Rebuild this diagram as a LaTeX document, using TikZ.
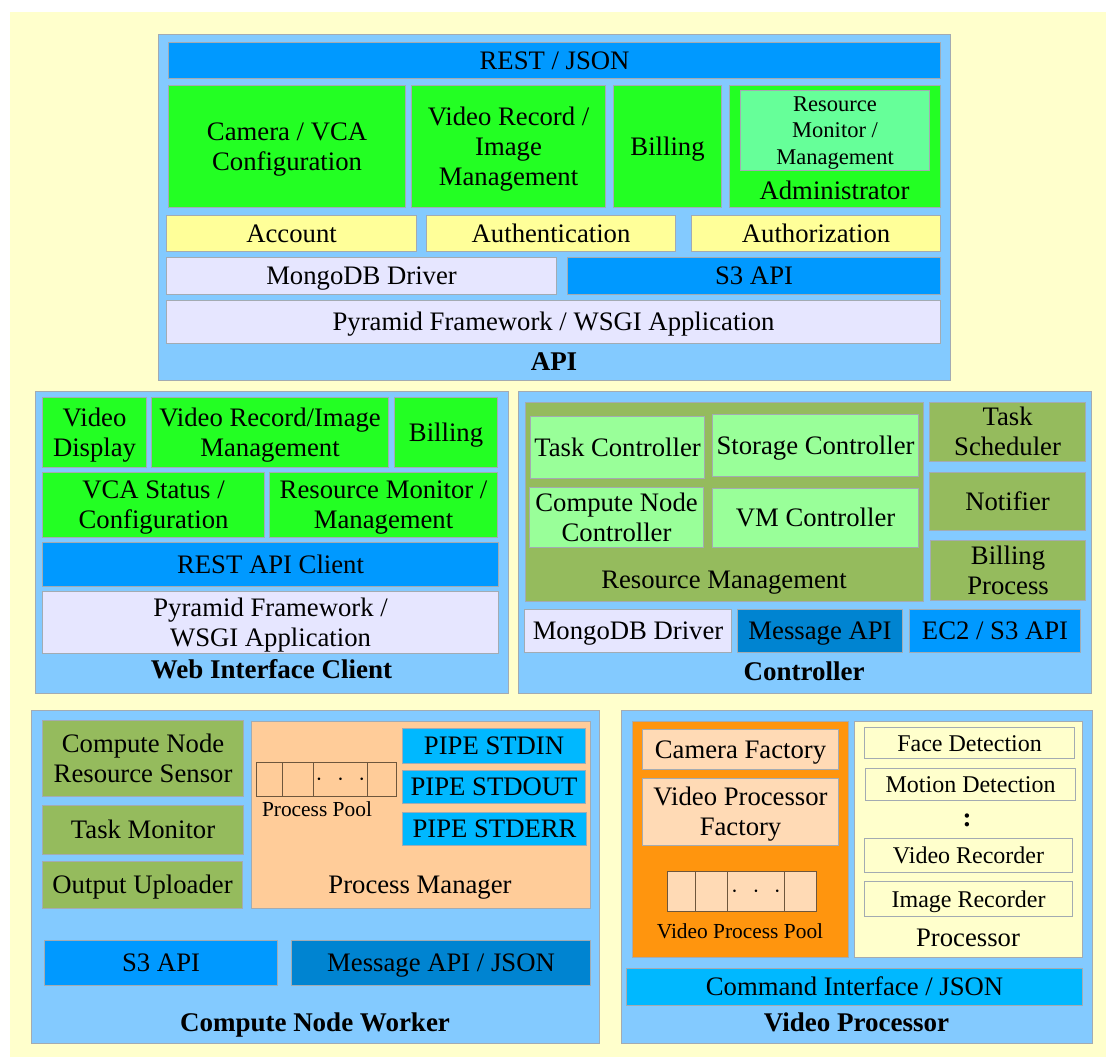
\documentclass[tikz,border=0pt]{standalone}
\usepackage{fontspec}
\setmainfont{Liberation Serif}

\definecolor{pagebg}{HTML}{FFFFCC}
\definecolor{panelblue}{HTML}{83CAFF}
\definecolor{restblue}{HTML}{0099FF}
\definecolor{msgblue}{HTML}{0084D1}
\definecolor{pipecyan}{HTML}{00B8FF}
\definecolor{brightgreen}{HTML}{23FF23}
\definecolor{mint}{HTML}{66FF99}
\definecolor{palegreen}{HTML}{99FF99}
\definecolor{olive}{HTML}{95BB5D}
\definecolor{lightyellow}{HTML}{FFFF99}
\definecolor{lavender}{HTML}{E6E6FF}
\definecolor{peach}{HTML}{FFCC99}
\definecolor{lightpeach}{HTML}{FFDAB5}
\definecolor{orangebox}{HTML}{FF950E}
\definecolor{cream}{HTML}{FFFFCC}
\definecolor{edge}{HTML}{A3ABB2}
\definecolor{pooledge}{HTML}{6E563C}

% one text line whose box runs from the baseline to the cap height,
% so that lines are centred on their capitals
\newcommand{\capline}[1]{\raisebox{0pt}[0.662em][0pt]{#1}}

% block given by its top-left and bottom-right corners (pixel units, y down)
\newcommand{\bx}[7]{\node[#2, minimum width={(#5)-(#3)}, minimum height={(#6)-(#4)}, anchor=north west] (#1) at (#3,#4) {#7};}

\tikzset{
  box/.style={draw=edge, line width=1.1pt, inner sep=0pt, align=center,
    font=\fontsize{26.7}{30}\selectfont},
  panel/.style={box, fill=panelblue},
  title/.style={inner sep=0pt, font=\fontsize{27}{30}\selectfont\bfseries},
  lbl/.style={inner sep=0pt, align=center, font=\fontsize{26.7}{30}\selectfont},
  smalllbl/.style={inner sep=0pt, font=\fontsize{21.4}{24}\selectfont},
  midbox/.style={box, font=\fontsize{24}{27}\selectfont},
  cell/.style={draw=pooledge, line width=1.1pt, inner sep=0pt,
    font=\fontsize{26}{30}\selectfont},
}
\newcommand{\pooldots}{$\cdot$\hspace{14.5pt}$\cdot$\hspace{14.5pt}$\cdot$}

\begin{document}
\begin{tikzpicture}[x=1pt,y=-1pt]
\useasboundingbox (0,0) rectangle (1106,1057);
\fill[white] (0,0) rectangle (1106,1057);
\fill[pagebg] (10,12) rectangle (1106,1057);

% ---------------- API ----------------
\bx{api}{panel}{158}{34}{950}{380}{}
\bx{rest}{box,fill=restblue}{168}{42}{940}{78}{\capline{REST / JSON}}
\bx{camcfg}{box,fill=brightgreen}{168}{85}{405}{207}{\capline{Camera / VCA}\\\capline{Configuration}}
\bx{vrim}{box,fill=brightgreen}{411}{85}{605}{207}{\capline{Video Record /}\\\capline{Image}\\\capline{Management}}
\bx{bill}{box,fill=brightgreen}{613}{85}{721}{207}{\capline{Billing}}
\bx{admin}{box,fill=brightgreen}{729}{85}{940}{207}{}
\bx{resmon}{box,fill=mint,font=\fontsize{22.5}{26.5}\selectfont}{740}{90}{929}{170}{\capline{Resource}\\\capline{Monitor /}\\\capline{Management}}
\node[lbl] (adminlbl) at (834.5,191) {\capline{Administrator}};
\bx{account}{box,fill=lightyellow}{166}{215}{416}{251}{\capline{Account}}
\bx{authn}{box,fill=lightyellow}{426}{215}{675}{251}{\capline{Authentication}}
\bx{authz}{box,fill=lightyellow}{691}{215}{940}{251}{\capline{Authorization}}
\bx{mongo}{box,fill=lavender}{166}{257}{556}{294}{\capline{MongoDB Driver}}
\bx{sthree}{box,fill=restblue}{567}{257}{940}{294}{\capline{S3 API}}
\bx{pyr}{box,fill=lavender}{166}{300}{940}{343}{\capline{Pyramid Framework / WSGI Application}}
\node[title] (apilbl) at (554,362) {\capline{API}};

% ---------------- Web Interface Client ----------------
\bx{web}{panel}{35}{391}{508}{693}{}
\bx{vdisp}{box,fill=brightgreen}{42}{397}{146}{467}{\capline{Video}\\\capline{Display}}
\bx{wvrim}{box,fill=brightgreen}{151}{397}{388}{467}{\capline{Video Record/Image}\\\capline{Management}}
\bx{wbill}{box,fill=brightgreen}{394}{397}{497}{467}{\capline{Billing}}
\bx{vca}{box,fill=brightgreen}{42}{472}{264}{537}{\capline{VCA Status /}\\\capline{Configuration}}
\bx{wrmm}{box,fill=brightgreen}{269}{472}{497}{537}{\capline{Resource Monitor /}\\\capline{Management}}
\bx{restc}{box,fill=restblue}{42}{542}{498}{586}{\capline{REST API Client}}
\bx{wpyr}{box,fill=lavender}{42}{591}{498}{653}{\capline{Pyramid Framework /}\\\capline{WSGI Application}}
\node[title] (weblbl) at (271.5,670) {\capline{Web Interface Client}};

% ---------------- Controller ----------------
\bx{ctrl}{panel}{518}{391}{1091}{693}{}
\bx{resmgmt}{box,fill=olive}{525}{402}{923}{601}{}
\node[lbl] (resmgmtlbl) at (724,580) {\capline{Resource Management}};
\bx{taskc}{box,fill=palegreen}{530}{416}{704}{478}{\capline{Task Controller}}
\bx{storc}{box,fill=palegreen}{712}{414}{918}{476}{\capline{Storage Controller}}
\bx{cnc}{box,fill=palegreen}{529}{487}{703}{547}{\capline{Compute Node}\\\capline{Controller}}
\bx{vmc}{box,fill=palegreen}{712}{488}{918}{547}{\capline{VM Controller}}
\bx{tsched}{box,fill=olive}{929}{402}{1085}{461}{\capline{Task}\\\capline{Scheduler}}
\bx{notif}{box,fill=olive}{929}{472}{1085}{530}{\capline{Notifier}}
\bx{billp}{box,fill=olive}{930}{540}{1085}{600}{\capline{Billing}\\\capline{Process}}
\bx{cmongo}{box,fill=lavender}{524}{609}{731}{652}{\capline{MongoDB Driver}}
\bx{cmsg}{box,fill=msgblue}{737}{609}{902}{652}{\capline{Message API}}
\bx{ectwo}{box,fill=restblue}{909}{609}{1080}{652}{\capline{EC2 / S3 API}}
\node[title] (ctrllbl) at (804,672) {\capline{Controller}};

% ---------------- Compute Node Worker ----------------
\bx{worker}{panel}{31}{710}{599}{1043}{}
\bx{sensor}{box,fill=olive}{42}{720}{243}{796}{\capline{Compute Node}\\\capline{Resource Sensor}}
\bx{tmon}{box,fill=olive}{42}{805}{243}{854}{\capline{Task Monitor}}
\bx{oupl}{box,fill=olive}{42}{861}{242}{908}{\capline{Output Uploader}}
\bx{pman}{box,fill=peach}{251}{721}{590}{908}{}
\node[lbl] (pmanlbl) at (420,885) {\capline{Process Manager}};
\bx{pa}{cell}{256}{762}{282}{796}{}
\bx{pb}{cell}{282}{762}{313}{796}{}
\bx{pc}{cell}{313}{762}{367}{796}{\pooldots}
\bx{pd}{cell}{367}{762}{396}{796}{}
\node[smalllbl] (poollbl) at (317,809) {\capline{Process Pool}};
\bx{stdin}{box,fill=pipecyan}{402}{728}{585}{763}{\capline{PIPE STDIN}}
\bx{stdout}{box,fill=pipecyan}{402}{770}{585}{803}{\capline{PIPE STDOUT}}
\bx{stderr}{box,fill=pipecyan}{402}{812}{586}{845}{\capline{PIPE STDERR}}
\bx{ws3}{box,fill=restblue}{44}{940}{277}{985}{\capline{S3 API}}
\bx{wmsg}{box,fill=msgblue}{291}{940}{590}{985}{\capline{Message API / JSON}}
\node[title] (workerlbl) at (315,1023) {\capline{Compute Node Worker}};

% ---------------- Video Processor ----------------
\bx{vproc}{panel}{621}{710}{1092}{1043}{}
\bx{factory}{box,fill=orangebox}{632}{721}{848}{957}{}
\bx{camf}{box,fill=lightpeach}{642}{729}{838}{769}{\capline{Camera Factory}}
\bx{vpf}{box,fill=lightpeach}{642}{778}{838}{845}{\capline{Video Processor}\\\capline{Factory}}
\bx{va}{cell,fill=lightpeach}{667}{871}{695}{911}{}
\bx{vb}{cell,fill=lightpeach}{695}{871}{727}{911}{}
\bx{vc}{cell,fill=lightpeach}{727}{871}{784}{911}{\pooldots}
\bx{vd}{cell,fill=lightpeach}{784}{871}{816}{911}{}
\node[smalllbl] (vpoollbl) at (740,931) {\capline{Video Process Pool}};
\bx{proc}{box,fill=cream}{854}{721}{1082}{957}{}
\node[lbl] (proclbl) at (968,938) {\capline{Processor}};
\bx{face}{midbox,fill=cream}{864}{727}{1074}{758}{\capline{Face Detection}}
\bx{motion}{midbox,fill=cream}{865}{768}{1075}{800}{\capline{Motion Detection}}
\node[title] (more) at (967,820) {:};
\bx{vrec}{midbox,fill=cream}{864}{838}{1072}{872}{\capline{Video Recorder}}
\bx{irec}{midbox,fill=cream}{864}{881}{1072}{916}{\capline{Image Recorder}}
\bx{cmd}{box,fill=pipecyan}{626}{968}{1082}{1005}{\capline{Command Interface / JSON}}
\node[title] (vproclbl) at (856.5,1023) {\capline{Video Processor}};
\end{tikzpicture}
\end{document}
